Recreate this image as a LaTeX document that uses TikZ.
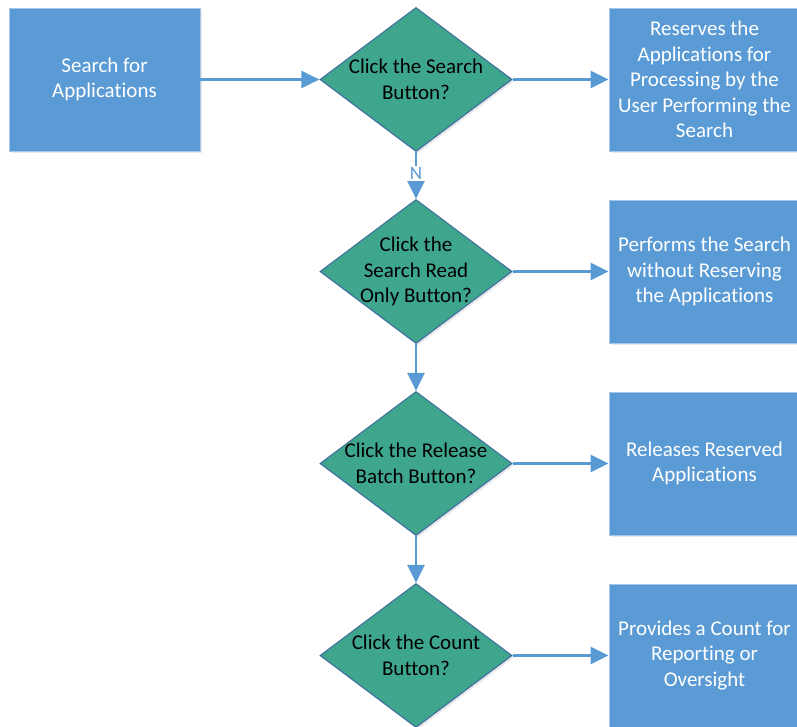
\documentclass[tikz,border=0pt]{standalone}
\usepackage{fontspec}
\setmainfont{Carlito}[Ligatures=NoCommon]
\usetikzlibrary{shapes.geometric,arrows.meta,shadows}
\definecolor{boxblue}{HTML}{5B9BD5}
\definecolor{boxedge}{HTML}{A8C6E6}
\definecolor{dteal}{HTML}{3FA68E}
\definecolor{dedge}{HTML}{41719C}
\definecolor{linkblue}{HTML}{5B9BD5}
\tikzset{
  procbox/.style={rectangle, draw=boxedge, line width=0.8pt, fill=boxblue,
    minimum width=191pt, minimum height=143pt, inner sep=0pt,
    text=white, align=center, font=\fontsize{21pt}{25.5pt}\selectfont,
    drop shadow={shadow xshift=2pt, shadow yshift=-2pt, fill=black!25, opacity=0.35}},
  decision/.style={diamond, draw=dedge, line width=1.2pt, fill=dteal,
    minimum width=192pt, minimum height=144pt, inner sep=0pt, aspect=1.333,
    drop shadow={shadow xshift=2pt, shadow yshift=-2pt, fill=black!25, opacity=0.35}},
  dtext/.style={text=black, align=center, font=\fontsize{21pt}{25.5pt}\selectfont, inner sep=0pt},
  link/.style={draw=linkblue, line width=2.6pt,
    -{Triangle[length=18pt,width=17pt]}},
  nlabel/.style={fill=white, text=linkblue, inner sep=1.5pt,
    font=\fontsize{19pt}{21pt}\selectfont}
}
\begin{document}
\begin{tikzpicture}[x=1pt,y=-1pt]
\useasboundingbox (0,0) rectangle (797,727);
% left start box
\node[procbox] (start) at (104.5,79.5) {Search for\\Applications};
% decisions
\node[decision] (d1) at (416,79.5) {};
\node[dtext] (d1t) at (d1.center) {Click the Search\\Button?};
\node[decision] (d2) at (416,271.5) {};
\node[dtext] (d2t) at (d2.center) {Click the\\Search Read\\Only Button?};
\node[decision] (d3) at (416,463.5) {};
\node[dtext] (d3t) at (d3.center) {Click the Release\\Batch Button?};
\node[decision] (d4) at (416,655.5) {};
\node[dtext] (d4t) at (d4.center) {Click the Count\\Button?};
% result boxes
\node[procbox] (r1) at (704.5,79.5) {Reserves the\\Applications for\\Processing by the\\User Performing the\\Search};
\node[procbox] (r2) at (704.5,271.5) {Performs the Search\\without Reserving\\the Applications};
\node[procbox] (r3) at (704.5,463.5) {Releases Reserved\\Applications};
\node[procbox] (r4) at (704.5,655.5) {Provides a Count for\\Reporting or\\Oversight};
% connectors
\draw[link] (start.east) -- (d1.west);
\draw[link] (d1.east) -- (r1.west);
\draw[link] (d2.east) -- (r2.west);
\draw[link] (d3.east) -- (r3.west);
\draw[link] (d4.east) -- (r4.west);
\draw[link] (d1.south) -- node[nlabel, pos=0.45] (nl) {N} (d2.north);
\draw[link] (d2.south) -- (d3.north);
\draw[link] (d3.south) -- (d4.north);
\end{tikzpicture}
\end{document}
